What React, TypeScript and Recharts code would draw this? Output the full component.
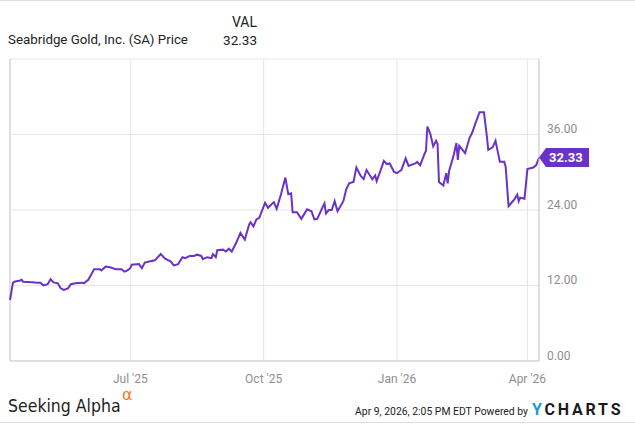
import React from "react";
import {
  LineChart,
  Line,
  XAxis,
  YAxis,
  CartesianGrid,
  ReferenceLine,
  ReferenceDot,
} from "recharts";

// Seabridge Gold (SA) daily price, Apr 2025 - Apr 2026
const dates = [
  "2025-04-09", "2025-04-11", "2025-04-12", "2025-04-16", "2025-04-17", "2025-04-18",
  "2025-04-24", "2025-04-28", "2025-04-30", "2025-05-02", "2025-05-05", "2025-05-07",
  "2025-05-09", "2025-05-12", "2025-05-14", "2025-05-16", "2025-05-19", "2025-05-21",
  "2025-05-24", "2025-05-29", "2025-05-30", "2025-06-02", "2025-06-04", "2025-06-06",
  "2025-06-10", "2025-06-11", "2025-06-14", "2025-06-17", "2025-06-21", "2025-06-25",
  "2025-06-27", "2025-06-29", "2025-07-01", "2025-07-02", "2025-07-07", "2025-07-09",
  "2025-07-11", "2025-07-14", "2025-07-18", "2025-07-22", "2025-07-25", "2025-07-29",
  "2025-07-31", "2025-08-03", "2025-08-06", "2025-08-08", "2025-08-11", "2025-08-14",
  "2025-08-16", "2025-08-19", "2025-08-20", "2025-08-23", "2025-08-26", "2025-08-27",
  "2025-08-29", "2025-08-30", "2025-09-03", "2025-09-05", "2025-09-07", "2025-09-09",
  "2025-09-12", "2025-09-15", "2025-09-18", "2025-09-21", "2025-09-22", "2025-09-24",
  "2025-09-26", "2025-09-28", "2025-10-02", "2025-10-04", "2025-10-08", "2025-10-10",
  "2025-10-13", "2025-10-16", "2025-10-18", "2025-10-20", "2025-10-21", "2025-10-24",
  "2025-10-27", "2025-10-31", "2025-11-03", "2025-11-05", "2025-11-07", "2025-11-10",
  "2025-11-12", "2025-11-13", "2025-11-15", "2025-11-17", "2025-11-19", "2025-11-21",
  "2025-11-25", "2025-11-27", "2025-11-29", "2025-12-02", "2025-12-04", "2025-12-07",
  "2025-12-09", "2025-12-11", "2025-12-15", "2025-12-17", "2025-12-18", "2025-12-20",
  "2025-12-23", "2025-12-25", "2025-12-27", "2025-12-30", "2026-01-01", "2026-01-02",
  "2026-01-04", "2026-01-07", "2026-01-09", "2026-01-14", "2026-01-15", "2026-01-17",
  "2026-01-20", "2026-01-21", "2026-01-22", "2026-01-24", "2026-01-26", "2026-01-28",
  "2026-01-29", "2026-01-30", "2026-02-02", "2026-02-04", "2026-02-05", "2026-02-06",
  "2026-02-09", "2026-02-11", "2026-02-12", "2026-02-13", "2026-02-17", "2026-02-20",
  "2026-02-22", "2026-02-24", "2026-02-27", "2026-03-02", "2026-03-04", "2026-03-05",
  "2026-03-08", "2026-03-10", "2026-03-13", "2026-03-16", "2026-03-17", "2026-03-19",
  "2026-03-21", "2026-03-23", "2026-03-25", "2026-03-26", "2026-03-27", "2026-03-30",
  "2026-04-01", "2026-04-05", "2026-04-07", "2026-04-09",
];

const prices = [
  9.7, 12.4, 12.6, 12.8, 12.9, 12.6,
  12.5, 12.45, 12.45, 12.0, 12.2, 13.0,
  12.5, 12.35, 11.55, 11.3, 11.55, 12.2,
  12.35, 12.45, 12.35, 12.9, 13.7, 14.6,
  14.6, 14.4, 15.0, 14.9, 14.6, 14.6,
  14.2, 14.4, 14.75, 15.3, 15.4, 14.75,
  15.65, 15.8, 16.0, 17.0, 16.25, 15.8,
  15.2, 15.4, 16.5, 16.35, 16.7, 16.7,
  16.9, 16.7, 16.2, 16.5, 16.35, 17.0,
  16.5, 17.6, 17.7, 17.4, 17.85, 17.4,
  18.75, 20.35, 19.3, 21.7, 22.05, 21.4,
  22.5, 22.75, 25.15, 24.35, 25.25, 24.2,
  26.5, 29.15, 26.5, 26.65, 23.65, 23.65,
  22.6, 24.1, 23.8, 22.5, 22.6, 24.1,
  25.05, 23.45, 24.0, 24.0, 25.4, 23.8,
  25.4, 27.3, 28.25, 28.45, 30.75, 29.4,
  28.9, 30.35, 28.9, 29.5, 28.6, 29.85,
  31.8, 31.3, 31.4, 30.05, 29.85, 30.05,
  30.35, 32.2, 31.0, 31.45, 31.65, 31.1,
  32.9, 33.4, 37.25, 36.1, 34.1, 35.0,
  34.5, 28.45, 27.9, 29.85, 28.25, 30.2,
  32.6, 34.65, 31.95, 34.2, 33.05, 35.4,
  36.35, 37.7, 39.55, 39.55, 35.8, 33.55,
  33.95, 35.0, 31.65, 31.65, 30.9, 24.6,
  25.15, 25.7, 26.45, 25.4, 25.95, 25.8,
  30.5, 30.75, 31.1, 32.33,
];

const xTickDates = ["2025-07-01", "2025-10-01", "2026-01-01", "2026-04-01"];
const yTicks = [0, 12, 24, 36];
const monthNames = ["Jan", "Feb", "Mar", "Apr", "May", "Jun", "Jul", "Aug", "Sep", "Oct", "Nov", "Dec"];

const data = dates.map((d, i) => ({ t: Date.parse(d), v: prices[i] }));
const xTicks = xTickDates.map((d) => Date.parse(d));
const first = data[0];
const last = data[data.length - 1];

const PURPLE = "#6a32c9";
const FONT = "Roboto, 'Noto Sans', sans-serif";

const formatDate = (t: number) => {
  const d = new Date(t);
  return `${monthNames[d.getUTCMonth()]} '${String(d.getUTCFullYear()).slice(2)}`;
};

const YTick = (props: any) => {
  const { x, y, payload } = props;
  return (
    <text x={x} y={y - 1.5} fill="#8e8e8e" fontSize={12} fontFamily={FONT} textAnchor="start">
      {payload.value.toFixed(2)}
    </text>
  );
};

const XTick = (props: any) => {
  const { x, y, payload } = props;
  return (
    <text x={x} y={y + 14} fill="#8e8e8e" fontSize={12} fontFamily={FONT} textAnchor="middle">
      {formatDate(payload.value)}
    </text>
  );
};

const PriceTag = (props: any) => {
  const { cx, cy } = props;
  return (
    <g>
      <polygon
        points={`${cx},${cy} ${cx + 7},${cy - 9.5} ${cx + 50},${cy - 9.5} ${cx + 50},${cy + 9.5} ${cx + 7},${cy + 9.5}`}
        fill={PURPLE}
      />
      <text x={cx + 10} y={cy + 4.5} fill="#fff" fontSize={13} fontWeight="bold" fontFamily={FONT}>
        {last.v.toFixed(2)}
      </text>
    </g>
  );
};

const App = () => {
  return (
    <div
      style={{
        position: "absolute",
        left: 0,
        top: 0,
        width: 635,
        height: 423,
        boxSizing: "border-box",
        borderTop: "1px solid #dedede",
        borderBottom: "1px solid #dedede",
        background: "#fff",
        fontFamily: FONT,
      }}
    >
      <div style={{ position: "absolute", left: 227, top: 13, width: 30, textAlign: "right", fontSize: 14, color: "#222" }}>
        VAL
      </div>
      <div style={{ position: "absolute", left: 8, top: 31, fontSize: 13.3, color: "#222", whiteSpace: "nowrap" }}>
        Seabridge Gold, Inc. (SA) Price
      </div>
      <div style={{ position: "absolute", left: 207, top: 31, width: 50, textAlign: "right", fontSize: 13.5, color: "#222" }}>
        {last.v.toFixed(2)}
      </div>

      <div style={{ position: "absolute", left: -1, top: -1 }}>
        <LineChart width={635} height={424} data={data} margin={{ top: 59, right: 0, bottom: 33, left: 11 }}>
          <CartesianGrid stroke="#e6e6e6" strokeWidth={1} />
          <XAxis
            dataKey="t"
            type="number"
            domain={[first.t, last.t]}
            ticks={xTicks}
            tick={<XTick />}
            tickLine={false}
            axisLine={{ stroke: "#cccccc" }}
            height={30}
            interval={0}
          />
          <YAxis
            orientation="right"
            type="number"
            domain={[0, 48]}
            ticks={yTicks}
            tick={<YTick />}
            tickLine={false}
            axisLine={{ stroke: "#cccccc" }}
            width={95}
            interval={0}
          />
          <ReferenceLine x={first.t} stroke="#cccccc" />
          <Line
            type="linear"
            dataKey="v"
            stroke={PURPLE}
            strokeWidth={2}
            dot={false}
            isAnimationActive={false}
          />
          <ReferenceDot x={last.t} y={last.v} ifOverflow="visible" shape={<PriceTag />} />
        </LineChart>
      </div>

      <div
        style={{
          position: "absolute",
          left: 8,
          top: 395,
          fontFamily: "'Liberation Sans Narrow', 'DejaVu Sans Condensed', sans-serif",
          fontSize: 17.5,
          color: "#222",
          whiteSpace: "nowrap",
        }}
      >
        Seeking Alpha
      </div>
      <div
        style={{
          position: "absolute",
          left: 122,
          top: 386,
          lineHeight: "15px",
          color: "#f47b20",
          fontSize: 16,
          fontFamily: "'DejaVu Sans', sans-serif",
        }}
      >
        α
      </div>
      <div style={{ position: "absolute", left: 328, top: 404, width: 200, textAlign: "right", fontSize: 10.4, color: "#222", whiteSpace: "nowrap" }}>
        Apr 9, 2026, 2:05 PM EDT Powered by
      </div>
      <div
        style={{
          position: "absolute",
          left: 532,
          top: 399,
          fontSize: 16,
          fontWeight: "bold",
          letterSpacing: 2.8,
          color: "#1b1b1b",
          whiteSpace: "nowrap",
        }}
      >
        <span style={{ color: "#1f9ad6" }}>Y</span>CHARTS
      </div>
    </div>
  );
};

export default App;
